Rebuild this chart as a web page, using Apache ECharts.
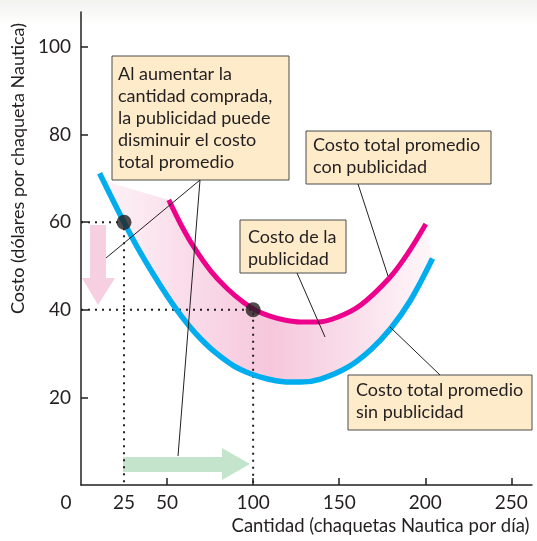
<!DOCTYPE html>
<html>
<head>
<meta charset="utf-8">
<script src="https://cdn.jsdelivr.net/npm/echarts@6/dist/echarts.min.js"></script>
<style>
html, body { margin: 0; padding: 0; background: #fff; }
#chart { width: 537px; height: 541px; }
</style>
</head>
<body>
<div id="chart"></div>
<script>
// axis ticks
const xTickLabels = [0, 25, 50, 100, 150, 200, 250];
const xTickMarks = [50, 100, 150, 200, 250];
const yTickLabels = [20, 40, 60, 80, 100];

// costo total promedio sin publicidad (azul)
const sinPubX = [10.8, 25, 34.6, 46.2, 54.9, 62.5, 69.5, 78.2, 88.7, 98.5, 108.4, 117.7, 127.6, 139.2, 155, 168.3, 180, 191.6, 204.2];
const sinPubY = [71.2, 60, 53, 45.5, 40.4, 36.5, 33.4, 30.2, 27.2, 25.4, 24.2, 23.6, 23.5, 24.2, 26.9, 30.9, 35.8, 42.3, 51.7];

// costo total promedio con publicidad (magenta)
const conPubX = [51, 58.4, 65.6, 75.3, 85, 94.7, 102, 110.2, 118.9, 127.6, 137.3, 149, 162.5, 179, 189.7, 200.3];
const conPubY = [65.1, 59.2, 54.3, 48.9, 44.8, 41.6, 39.8, 38.5, 37.6, 37.2, 37.2, 38.3, 41.1, 47.2, 52.8, 59.6];

// left corner of the shaded band (next to the blue curve)
const bandStartX = 15.5;
const bandStartY = 69.2;

// highlighted points
const pointsX = [25, 100];
const pointsY = [60, 40];

const ink = '#231f20';
const font = 'Lato';

const sinPub = sinPubX.map((x, i) => [x, sinPubY[i]]);
const conPub = conPubX.map((x, i) => [x, conPubY[i]]);
const bandPoly = [[bandStartX, bandStartY]].concat(conPub, sinPub.slice().reverse().filter(p => p[0] > bandStartX));

const chart = echarts.init(document.getElementById('chart'));

const box = (x, y, w, h, tx, ty, text) => ({
    type: 'group', z: 100,
    children: [
        { type: 'rect', shape: { x: x, y: y, width: w, height: h },
          style: { fill: '#fdebca', stroke: '#4d4d4d', lineWidth: 1 } },
        { type: 'text', x: tx, y: ty,
          style: { text: text, fill: ink, fontFamily: font, fontSize: 18, lineHeight: 22 } }
    ]
});
const leader = (x1, y1, x2, y2) => ({
    type: 'line', z: 100, shape: { x1: x1, y1: y1, x2: x2, y2: y2 },
    style: { stroke: ink, lineWidth: 1 }
});

const option = {
    animation: false,
    textStyle: { fontFamily: font },
    grid: { left: 81, right: 5, top: 12, bottom: 56 },
    xAxis: {
        type: 'value', min: 0, max: 262,
        name: 'Cantidad (chaquetas Nautica por día)',
        nameLocation: 'middle', nameGap: 32,
        nameTextStyle: { fontSize: 18.5, color: ink, fontFamily: font, padding: [0, 0, 0, 148] },
        axisLine: { lineStyle: { color: ink, width: 1.5 } },
        axisTick: { inside: true, length: 7, customValues: xTickMarks, lineStyle: { color: ink, width: 1.5 } },
        axisLabel: {
            customValues: xTickLabels, margin: 8, fontSize: 19, color: ink,
            formatter: v => v === 0 ? '{z|0}' : String(v),
            rich: { z: { fontSize: 19, color: ink, fontFamily: font, padding: [0, 30, 0, 0] } }
        },
        splitLine: { show: false }
    },
    yAxis: {
        type: 'value', min: 0, max: 108,
        name: 'Costo (dólares por chaqueta Nautica)',
        nameLocation: 'middle', nameRotate: 90, nameGap: 50,
        nameTextStyle: { fontSize: 18, color: ink, fontFamily: font, padding: [0, 0, 0, 160] },
        axisLine: { lineStyle: { color: ink, width: 1.5 } },
        axisTick: { inside: true, length: 7, customValues: yTickLabels, lineStyle: { color: ink, width: 1.5 } },
        axisLabel: { customValues: yTickLabels, margin: 10, fontSize: 19, color: ink },
        splitLine: { show: false }
    },
    graphic: [
        { type: 'rect', z: -10, shape: { x: 0, y: 0, width: 537, height: 26 },
          style: { fill: new echarts.graphic.LinearGradient(0, 0, 0, 1, [
              { offset: 0, color: '#f2f2ef' }, { offset: 1, color: '#ffffff' }]) } },
        // arrows
        { type: 'polygon', z: 1, shape: { points: [[90, 225], [106, 225], [106, 278], [115, 278], [98, 305], [82, 278], [90, 278]] },
          style: { fill: '#f6cfe1' } },
        { type: 'polygon', z: 1, shape: { points: [[123, 457], [222, 457], [222, 448], [250, 464], [222, 480], [222, 472], [123, 472]] },
          style: { fill: '#c4e5cc' } },
        // leader lines
        leader(200, 180, 106, 258),
        leader(200, 180, 178, 456),
        leader(358, 184, 388, 276),
        leader(297, 273, 325, 337),
        leader(440, 375, 390, 327),
        // annotation boxes
        box(112, 56, 177, 124, 118, 63, 'Al aumentar la\ncantidad comprada,\nla publicidad puede\ndisminuir el costo\ntotal promedio'),
        box(306, 131, 185, 53, 313, 134, 'Costo total promedio\ncon publicidad'),
        box(240, 220, 106, 53, 248, 226, 'Costo de la\npublicidad'),
        box(348, 375, 184, 55, 356, 379, 'Costo total promedio\nsin publicidad')
    ],
    series: [
        {
            type: 'custom', z: 1, silent: true,
            data: [0],
            renderItem: (params, api) => ({
                type: 'polygon',
                shape: { points: bandPoly.map(p => api.coord(p)) },
                style: { fill: new echarts.graphic.LinearGradient(0, 0, 1, 0, [
                    { offset: 0, color: '#fdf1f6' },
                    { offset: 0.5, color: '#f6c7dc' },
                    { offset: 0.72, color: '#f9dbe8' },
                    { offset: 1, color: '#fef7fa' }]) }
            })
        },
        ...pointsX.map((x, i) => ({
            type: 'line', z: 3, symbol: 'none', silent: true,
            data: [[0, pointsY[i]], [x, pointsY[i]], [x, 0]],
            lineStyle: { color: ink, width: 2, type: [2, 5] }
        })),
        {
            name: 'Costo total promedio sin publicidad',
            type: 'line', z: 4, symbol: 'none', smooth: 0.35,
            data: sinPub,
            lineStyle: { color: '#00aeef', width: 5.5 }
        },
        {
            name: 'Costo total promedio con publicidad',
            type: 'line', z: 4, symbol: 'none', smooth: 0.35,
            data: conPub,
            lineStyle: { color: '#ec008c', width: 5 }
        },
        {
            type: 'scatter', z: 5, symbolSize: 15,
            data: pointsX.map((x, i) => [x, pointsY[i]]),
            itemStyle: { color: ink }
        }
    ]
};

chart.setOption(option);
window.addEventListener('resize', () => chart.resize());
</script>
</body>
</html>
